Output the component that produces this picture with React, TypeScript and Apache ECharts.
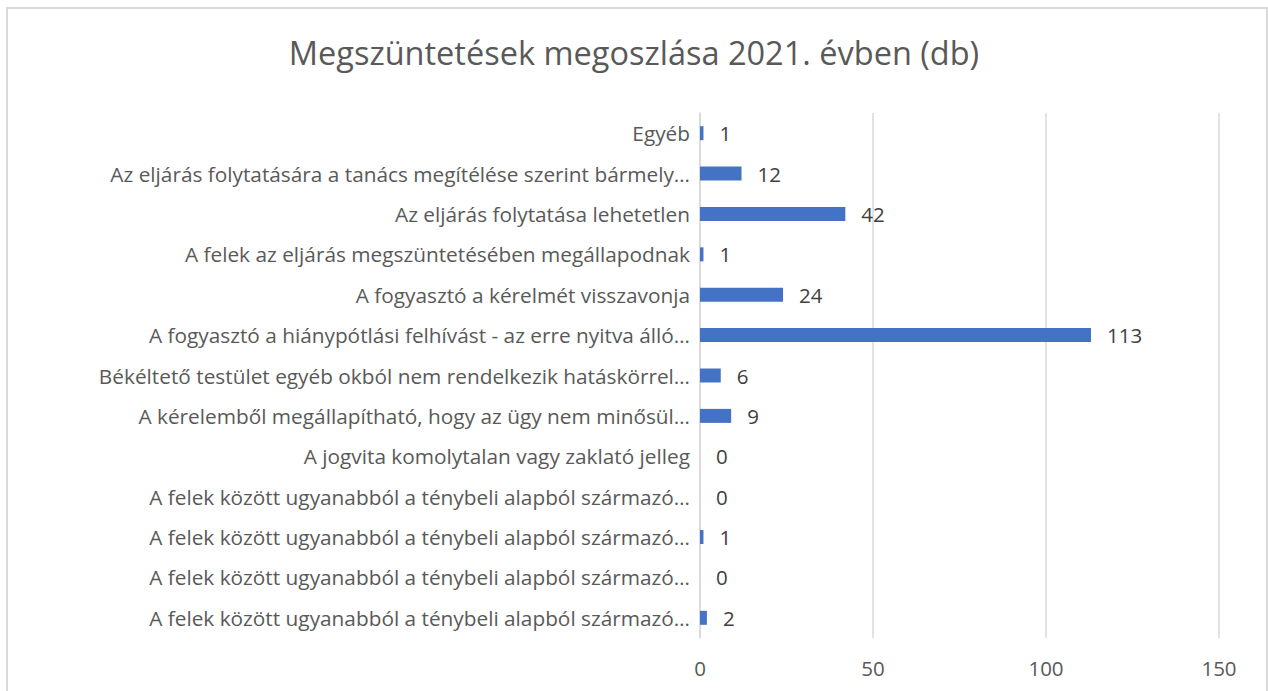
import React, { useEffect, useRef } from "react";
import * as echarts from "echarts";

const title = "Megszüntetések megoszlása 2021. évben (db)";
const categories = [
  "Egyéb",
  "Az eljárás folytatására a tanács megítélése szerint bármely…",
  "Az eljárás folytatása lehetetlen",
  "A felek az eljárás megszüntetésében megállapodnak",
  "A fogyasztó a kérelmét visszavonja",
  "A fogyasztó a hiánypótlási felhívást - az erre nyitva álló…",
  "Békéltető testület egyéb okból nem rendelkezik hatáskörrel…",
  "A kérelemből megállapítható, hogy az ügy nem minősül…",
  "A jogvita komolytalan vagy zaklató jelleg",
  "A felek között ugyanabból a ténybeli alapból származó…",
  "A felek között ugyanabból a ténybeli alapból származó…",
  "A felek között ugyanabból a ténybeli alapból származó…",
  "A felek között ugyanabból a ténybeli alapból származó…",
];
const values = [1, 12, 42, 1, 24, 113, 6, 9, 0, 0, 1, 0, 2];
const axisMin = 0;
const axisMax = 150;
const axisInterval = 50;

export default function App() {
  const ref = useRef<HTMLDivElement>(null);
  useEffect(() => {
    document.body.style.margin = "0";
    const chart = echarts.init(ref.current!, null, { renderer: "svg" });
    const font = "'Open Sans', sans-serif";
    chart.setOption({
      animation: false,
      backgroundColor: "#ffffff",
      title: {
        text: title,
        left: "center",
        top: 31,
        textStyle: { fontFamily: font, fontSize: 32.5, fontWeight: "normal", color: "#595959" },
      },
      graphic: [
        {
          type: "rect",
          shape: { x: 7, y: 8, width: 1260, height: 720 },
          style: { fill: "none", stroke: "#d9d9d9", lineWidth: 2 },
          silent: true,
        },
      ],
      grid: { left: 700, right: 49, top: 113, bottom: 53, containLabel: false },
      xAxis: {
        type: "value",
        min: axisMin,
        max: axisMax,
        interval: axisInterval,
        axisLine: { show: false },
        axisTick: { show: false },
        axisLabel: { fontFamily: font, fontSize: 20.5, color: "#595959", margin: 19 },
        splitLine: { show: true, lineStyle: { color: "#d9d9d9", width: 1.5 } },
      },
      yAxis: {
        type: "category",
        inverse: true,
        data: categories,
        axisLine: { show: true, lineStyle: { color: "#d9d9d9", width: 1.5 } },
        axisTick: { show: false },
        axisLabel: { fontFamily: font, fontSize: 20.8, color: "#595959", margin: 10, interval: 0 },
      },
      series: [
        {
          type: "bar",
          data: values,
          barWidth: 14,
          itemStyle: { color: "#4472C4" },
          label: {
            show: true,
            position: "right",
            distance: 16,
            fontFamily: font,
            fontSize: 20.5,
            color: "#404040",
          },
        },
      ],
    });
    return () => chart.dispose();
  }, []);
  return <div ref={ref} style={{ width: 1268, height: 691 }} />;
}
